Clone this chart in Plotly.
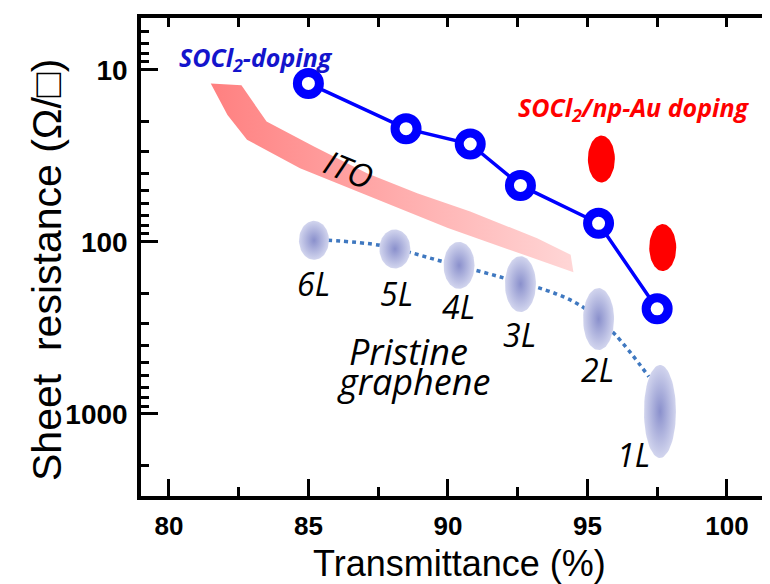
import numpy as np
import plotly.graph_objects as go

# ---------------- data ----------------
socl2_x = [85.0, 88.5, 90.8, 92.6, 95.4, 97.5]
socl2_y = [12, 22, 27, 47, 78, 245]

npau_x = [95.5, 97.7]
npau_y = [33, 108]

layer_labels = ["6L", "5L", "4L", "3L", "2L", "1L"]
graphene_x = [85.2, 88.1, 90.4, 92.6, 95.4, 97.6]
graphene_y = [98, 110, 137, 176, 281, 968]

# pristine-graphene guide (dotted curve)
guide_x = [85.7, 87.6, 89.8, 92.0, 93.9, 94.9, 96.0, 97.2]
guide_y = [98, 105, 130, 162, 201, 243, 347, 607]

# ITO band outline (upper edge then lower edge back)
ito_x = [81.5, 82.6, 83.5, 85.2, 87.1, 88.9, 90.8, 93.2, 94.4,
         94.5, 90.0, 87.35, 84.7, 82.8, 82.1]
ito_y = [12.0, 12.3, 20.0, 27.9, 39.9, 52.1, 66.6, 95.3, 119,
         150, 83.2, 55.7, 37.3, 25.5, 18.3]

x_ticks = [80, 85, 90, 95, 100]
y_ticks = [10, 100, 1000]
y_ticktext = ["10", "100", "1000"]
y_minor = [5, 6, 7, 8, 9, 20, 30, 40, 50, 60, 70, 80, 90,
           200, 300, 400, 500, 600, 700, 800, 900, 2000, 3000]

# ---------------- geometry ----------------
W, H = 770, 584
ML, MR, MT, MB = 133, 0, 10, 96
PW, PH = W - ML - MR, H - MT - MB
XR = [79.0, 79.0 + PW / 27.9]
YR = [np.log10(3000), np.log10(5)]
px_per_x = PW / (XR[1] - XR[0])
px_per_dec = PH / (YR[0] - YR[1])

# ellipse sizes in pixels (width, height)
graphene_w = [30, 31, 31, 31, 31, 32]
graphene_h = [39, 39, 47, 56, 62, 93]
npau_w, npau_h = 27, 47

def ellipse(xc, yc, wpx, hpx, n=72):
    t = np.linspace(0, 2 * np.pi, n)
    a = wpx / 2 / px_per_x
    b = hpx / 2 / px_per_dec
    return xc + a * np.cos(t), 10 ** (np.log10(yc) + b * np.sin(t))

fig = go.Figure()

# ITO band
fig.add_trace(go.Scatter(
    x=ito_x + [ito_x[0]], y=ito_y + [ito_y[0]], mode="lines", fill="toself",
    line=dict(width=0, color="rgba(0,0,0,0)"),
    fillgradient=dict(type="horizontal",
                      colorscale=[[0, "#ff8080"], [1, "#ffd6d6"]]),
    hoverinfo="skip", showlegend=False))

# dotted guide
fig.add_trace(go.Scatter(
    x=guide_x, y=guide_y, mode="lines",
    line=dict(color="#3f78c0", width=3.5, dash="4px,4px", shape="spline"),
    hoverinfo="skip", showlegend=False))

# pristine graphene ellipses (radial gradient)
for xc, yc, w, h in zip(graphene_x, graphene_y, graphene_w, graphene_h):
    ex, ey = ellipse(xc, yc, w, h)
    fig.add_trace(go.Scatter(
        x=ex, y=ey, mode="lines", fill="toself",
        line=dict(width=0, color="rgba(0,0,0,0)"),
        fillgradient=dict(type="radial",
                          colorscale=[[0, "#8a90cc"], [1, "#d2d5ee"]]),
        hoverinfo="skip", showlegend=False))

# SOCl2/np-Au red ellipses
for xc, yc in zip(npau_x, npau_y):
    ex, ey = ellipse(xc, yc, npau_w, npau_h)
    fig.add_trace(go.Scatter(
        x=ex, y=ey, mode="lines", fill="toself", fillcolor="#ff0000",
        line=dict(width=0, color="rgba(0,0,0,0)"),
        hoverinfo="skip", showlegend=False))

# SOCl2-doping line
fig.add_trace(go.Scatter(
    x=socl2_x, y=socl2_y, mode="lines+markers",
    line=dict(color="#0000ff", width=3.5),
    marker=dict(symbol="circle", size=22, color="white",
                line=dict(color="#0000ff", width=9)),
    hoverinfo="skip", showlegend=False))

# empty trace for secondary axes
fig.add_trace(go.Scatter(x=[], y=[], xaxis="x2", yaxis="y2", showlegend=False))

ann = []
ital = dict(family="Open Sans", color="black", style="italic")

# layer labels
label_pos = [(85.18, 2.240), (88.14, 2.298), (90.39, 2.376),
             (92.58, 2.536), (95.35, 2.744), (96.67, 3.238)]
for lab, (lx, ly) in zip(layer_labels, label_pos):
    ann.append(dict(x=lx, y=ly, xref="x", yref="y", text=lab, showarrow=False,
                    font=dict(size=32, **ital), xanchor="center", yanchor="middle"))

ann.append(dict(x=88.6, y=2.635, xref="x", yref="y", text="Pristine", showarrow=False,
                font=dict(size=36, **ital), xanchor="center", yanchor="middle"))
ann.append(dict(x=88.78, y=2.81, xref="x", yref="y", text="graphene", showarrow=False,
                font=dict(size=36, **ital), xanchor="center", yanchor="middle"))
ann.append(dict(x=86.45, y=1.581, xref="x", yref="y", text="ITO", showarrow=False,
                textangle=22, font=dict(size=33, **ital),
                xanchor="center", yanchor="middle"))

ann.append(dict(x=80.3, y=0.932, xref="x", yref="y",
                text="SOCl<sub>2</sub>-doping", showarrow=False,
                font=dict(family="Open Sans", size=25, color="#1414cc",
                          weight="bold", style="italic"),
                xanchor="left", yanchor="middle"))
ann.append(dict(x=92.45, y=1.223, xref="x", yref="y",
                text="SOCl<sub>2</sub>/np-Au doping", showarrow=False,
                font=dict(family="Open Sans", size=25, color="#ff0000",
                          weight="bold", style="italic"),
                xanchor="left", yanchor="middle"))

# axis titles
ann.append(dict(x=(452 - ML) / PW, y=(MT + PH - 555) / PH, xref="paper", yref="paper",
                text="Transmittance (%)", showarrow=False,
                font=dict(family="Liberation Sans", size=36, color="black"),
                xanchor="center", yanchor="middle"))
ann.append(dict(x=(39 - ML) / PW, y=(MT + PH - 262) / PH, xref="paper", yref="paper",
                text="Sheet\u00a0 resistance (\u03a9/\u25a1)", showarrow=False,
                textangle=-90,
                font=dict(family="Liberation Sans", size=41, color="black"),
                xanchor="center", yanchor="middle"))

xtickfont = dict(family="Liberation Sans", size=26, color="black", weight="bold")
ytickfont = dict(family="Liberation Sans", size=28, color="black", weight="bold")

fig.update_layout(
    width=W, height=H,
    margin=dict(l=ML, r=MR, t=MT, b=MB),
    plot_bgcolor="white", paper_bgcolor="white",
    annotations=ann,
    xaxis=dict(range=XR, tickvals=x_ticks, ticks="inside", ticklen=17, tickwidth=3,
               tickcolor="black", showline=True, linewidth=3.5, linecolor="black",
               showgrid=False, zeroline=False, tickfont=xtickfont,
               ticklabelstandoff=4,
               minor=dict(tickvals=[82.5, 87.5, 92.5, 97.5], ticks="inside",
                          ticklen=9, tickwidth=3, tickcolor="black", showgrid=False)),
    yaxis=dict(type="log", range=YR, tickvals=y_ticks, ticktext=y_ticktext,
               ticks="inside", ticklen=17, tickwidth=3, tickcolor="black",
               showline=True, linewidth=3.5, linecolor="black",
               showgrid=False, zeroline=False, tickfont=ytickfont,
               ticklabelstandoff=4,
               minor=dict(tickvals=y_minor, ticks="inside", ticklen=8, tickwidth=3,
                          tickcolor="black", showgrid=False)),
    xaxis2=dict(range=XR, overlaying="x", side="top", anchor="y",
                tickvals=[80, 82.5, 85, 87.5, 90, 92.5, 95, 97.5, 100],
                ticks="inside", ticklen=9, tickwidth=3, tickcolor="black",
                showline=True, linewidth=3.5, linecolor="black",
                showticklabels=False, showgrid=False, zeroline=False),
    yaxis2=dict(type="log", range=YR, overlaying="y", side="right", anchor="x",
                tickvals=y_ticks, ticks="inside", ticklen=7, tickwidth=3,
                tickcolor="black", showline=False, showticklabels=False,
                showgrid=False, zeroline=False,
                minor=dict(tickvals=y_minor, ticks="inside", ticklen=3, tickwidth=3,
                           tickcolor="black", showgrid=False)),
)

fig.write_html("out.html")
